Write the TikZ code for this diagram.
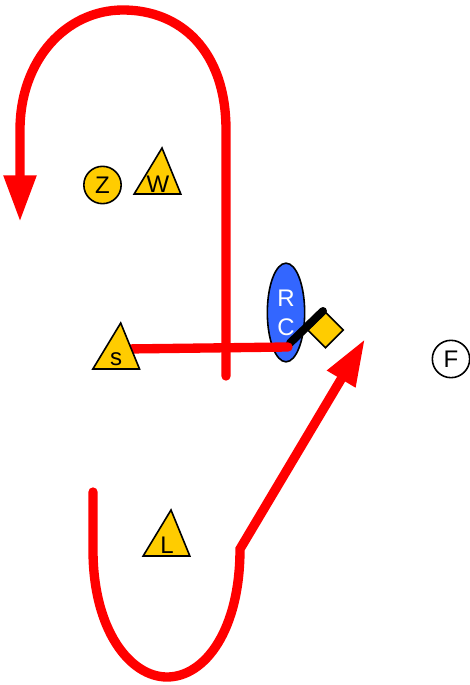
\documentclass[tikz,border=0pt]{standalone}
\usepackage{fontspec}
\setmainfont{Liberation Sans}
\usetikzlibrary{arrows.meta,shapes.geometric}
\definecolor{markyellow}{RGB}{255,204,0}
\definecolor{markblue}{RGB}{51,102,255}
\tikzset{
	tri/.style={draw, line width=1.2pt, fill=markyellow, isosceles triangle, isosceles triangle stretches, shape border rotate=90, minimum width=35pt, minimum height=34.5pt, inner sep=0pt, outer sep=0pt, anchor=apex, transform shape, xslant=0.098},
	disc/.style={draw, line width=1.2pt, circle, minimum size=28pt, inner sep=0pt},
	lbl/.style={font=\fontsize{18}{18}\selectfont, inner sep=0pt},
	track/.style={draw=red, line width=7pt, line cap=round},
	trackend/.style={track, -{Triangle[length=35pt, width=23pt]}}
}
\begin{document}
\begin{tikzpicture}[x=0.75pt, y=-0.75pt]
	\useasboundingbox (0,0) rectangle (470,685);
	\coordinate (u1) at (226,376);
	\coordinate (u2) at (226,130);
	\coordinate (u3) at (123,10);
	\coordinate (u4) at (20,130);
	\coordinate (u5) at (20,222);
	\coordinate (d1) at (93,492);
	\coordinate (d2) at (93,550);
	\coordinate (d3) at (167,677);
	\coordinate (d4) at (240,549);
	\coordinate (d5) at (365,339);
	\coordinate (s1) at (290,343);
	\coordinate (s2) at (323,311);
	\coordinate (t1) at (125,349);
	\coordinate (t2) at (288,347);
	% route above
	\draw[trackend, line join=round] (u1) -- (u2) .. controls (226,50) and (180,10) .. (u3) .. controls (66,10) and (20,60) .. (u4) -- (u5);
	% ref and flag
	\node[draw, line width=1.2pt, ellipse, fill=markblue, minimum width=28pt, minimum height=74pt, inner sep=0pt] (rc) at (286,312.5) {};
	\node[lbl, text=white] (r) at (286,298) {R};
	\node[lbl, text=white] (c) at (286,327) {C};
	\node[draw, line width=1.2pt, diamond, fill=markyellow, minimum width=27pt, minimum height=27pt, inner sep=0pt] (flag) at (325.5,330) {};
	\draw[line width=6pt, line cap=round] (s1) -- (s2);
	\draw[track] (t1) -- (t2);
	% route below
	\draw[trackend, line join=miter] (d1) -- (d2) .. controls (93,630) and (130,677) .. (d3) .. controls (205,677) and (240,630) .. (d4) -- (d5);
	% players
	\node[disc, fill=markyellow] (z) at (102.5,185) {};
	\node[lbl] (zt) at (102.5,185) {Z};
	\node[tri] (w) at (162,148) {};
	\node[lbl] (wt) at (158,184) {W};
	\node[tri] (s) at (120.7,323) {};
	\node[lbl, anchor=base] (st) at (116,365) {s};
	\node[tri] (l) at (171,510) {};
	\node[lbl] (lt) at (167,545) {L};
	\node[disc, fill=white] (f) at (451,359) {};
	\node[lbl] (ft) at (451,359) {F};
\end{tikzpicture}
\end{document}
